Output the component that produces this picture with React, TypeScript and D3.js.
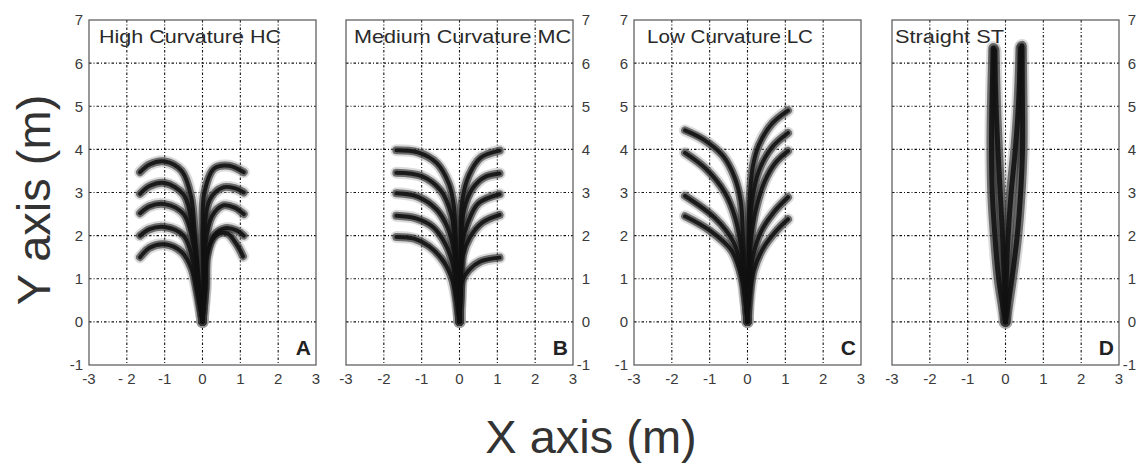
import { useEffect, useRef } from 'react';
import * as d3 from 'd3';

// trajectories, [x, y] in metres
const highCurvaturePaths = [
  [[0, 0], [-0.1, 1], [-0.2, 2], [-0.3, 2.9], [-0.55, 3.5], [-1.0, 3.72], [-1.4, 3.65], [-1.65, 3.47]],
  [[0, 0], [-0.12, 1], [-0.25, 2.1], [-0.5, 2.95], [-1.0, 3.22], [-1.4, 3.15], [-1.65, 2.97]],
  [[0, 0], [-0.12, 0.9], [-0.22, 1.7], [-0.5, 2.5], [-1.0, 2.73], [-1.4, 2.68], [-1.65, 2.52]],
  [[0, 0], [-0.14, 0.8], [-0.25, 1.4], [-0.5, 2.0], [-1.0, 2.2], [-1.4, 2.15], [-1.65, 2.0]],
  [[0, 0], [-0.15, 0.7], [-0.3, 1.25], [-0.55, 1.62], [-1.0, 1.8], [-1.4, 1.72], [-1.65, 1.5]],
  [[0, 0], [0.02, 1], [0.0, 2.2], [0.05, 3.0], [0.3, 3.55], [0.7, 3.62], [1.09, 3.47]],
  [[0, 0], [0.05, 1], [0.05, 2.1], [0.2, 2.85], [0.55, 3.12], [0.85, 3.1], [1.09, 3.0]],
  [[0, 0], [0.06, 0.9], [0.08, 1.8], [0.25, 2.45], [0.55, 2.7], [0.85, 2.65], [1.09, 2.5]],
  [[0, 0], [0.08, 0.8], [0.12, 1.5], [0.3, 2.0], [0.6, 2.17], [0.9, 2.12], [1.09, 2.0]],
  [[0, 0], [0.08, 0.8], [0.1, 1.5], [0.35, 2.0], [0.65, 2.05], [0.9, 1.8], [1.07, 1.52]],
];

const mediumCurvaturePaths = [
  [[0, 0], [-0.05, 1], [-0.1, 2], [-0.15, 2.7], [-0.28, 3.2], [-0.6, 3.68], [-1.1, 3.93], [-1.67, 3.98]],
  [[0, 0], [-0.07, 1], [-0.12, 1.8], [-0.22, 2.5], [-0.5, 3.05], [-1.0, 3.38], [-1.67, 3.46]],
  [[0, 0], [-0.08, 0.9], [-0.14, 1.6], [-0.32, 2.2], [-0.6, 2.6], [-1.1, 2.9], [-1.67, 2.98]],
  [[0, 0], [-0.1, 0.8], [-0.17, 1.3], [-0.37, 1.8], [-0.7, 2.2], [-1.15, 2.4], [-1.67, 2.46]],
  [[0, 0], [-0.1, 0.6], [-0.2, 1.0], [-0.42, 1.4], [-0.8, 1.75], [-1.2, 1.93], [-1.67, 1.97]],
  [[0, 0], [0.02, 1], [0.03, 2], [0.07, 2.8], [0.25, 3.4], [0.55, 3.8], [1.06, 3.97]],
  [[0, 0], [0.03, 1], [0.05, 2], [0.12, 2.6], [0.35, 3.1], [0.65, 3.35], [1.06, 3.44]],
  [[0, 0], [0.04, 1], [0.07, 1.8], [0.22, 2.3], [0.5, 2.75], [1.06, 2.96]],
  [[0, 0], [0.04, 0.9], [0.08, 1.5], [0.27, 1.95], [0.6, 2.3], [1.06, 2.48]],
  [[0, 0], [0.03, 0.5], [0.07, 0.95], [0.25, 1.2], [0.55, 1.4], [1.06, 1.49]],
];

const lowCurvaturePaths = [
  [[0, 0], [-0.06, 1], [-0.12, 2], [-0.18, 2.8], [-0.34, 3.35], [-0.65, 3.85], [-1.15, 4.22], [-1.65, 4.44]],
  [[0, 0], [-0.07, 0.8], [-0.15, 1.6], [-0.32, 2.4], [-0.6, 3.0], [-1.1, 3.55], [-1.65, 3.92]],
  [[0, 0], [-0.07, 0.6], [-0.15, 1.2], [-0.37, 1.85], [-0.85, 2.4], [-1.65, 2.92]],
  [[0, 0], [-0.06, 0.5], [-0.15, 1.0], [-0.42, 1.65], [-1.0, 2.12], [-1.65, 2.45]],
  [[0, 0], [0.02, 1], [0.03, 2], [0.06, 2.9], [0.14, 3.6], [0.3, 4.1], [0.65, 4.6], [1.07, 4.9]],
  [[0, 0], [0.03, 1], [0.05, 2], [0.12, 2.8], [0.3, 3.5], [0.65, 4.05], [1.07, 4.38]],
  [[0, 0], [0.04, 1], [0.08, 1.8], [0.22, 2.6], [0.45, 3.25], [0.75, 3.7], [1.07, 3.96]],
  [[0, 0], [0.05, 0.8], [0.14, 1.5], [0.36, 2.1], [0.7, 2.55], [1.07, 2.89]],
  [[0, 0], [0.06, 0.6], [0.17, 1.2], [0.41, 1.7], [0.75, 2.1], [1.07, 2.38]],
];

const straightPaths = [
  [[0, 0], [-0.18, 1], [-0.28, 2], [-0.35, 3], [-0.37, 4], [-0.36, 5], [-0.32, 6.35]],
  [[0, 0], [-0.03, 1], [-0.08, 2], [-0.14, 3], [-0.2, 4], [-0.25, 5], [-0.29, 6.3]],
  [[0, 0], [0.02, 1], [0.07, 2], [0.15, 3], [0.26, 4], [0.34, 5], [0.4, 6.35]],
  [[0, 0], [0.17, 1], [0.31, 2], [0.4, 3], [0.45, 4], [0.45, 5], [0.43, 6.4]],
];

const xTicks = [-3, -2, -1, 0, 1, 2, 3];
const yTicks = [-1, 0, 1, 2, 3, 4, 5, 6, 7];
const xGrid = [-2, -1, 0, 1, 2];
const yGrid = [0, 1, 2, 3, 4, 5, 6];
const xTickLabelsA = ['-3', '- 2', '-1', '0', '1', '2', '3'];
const xTickLabels = ['-3', '-2', '-1', '0', '1', '2', '3'];
const panelTitles = ['High Curvature HC', 'Medium Curvature MC', 'Low Curvature LC', 'Straight ST'];
const panelLetters = ['A', 'B', 'C', 'D'];

export default function App() {
  const svgRef = useRef(null);

  useEffect(() => {
    const svg = d3.select(svgRef.current);
    svg.selectAll('*').remove();

    const width = 1136;
    const height = 463;
    const top = 20;
    const bottom = 365;
    const panelW = 227;
    const font = 'Liberation Sans, Arial, Helvetica, sans-serif';

    svg.attr('width', width).attr('height', height);
    svg.append('rect').attr('width', width).attr('height', height).attr('fill', 'white');

    const layout = [
      { left: 89, side: 'left', titleDx: 10, titleLen: 182, bundle: 8, paths: highCurvaturePaths, xl: xTickLabelsA },
      { left: 346, side: 'right', titleDx: 8, titleLen: 217, bundle: 8, paths: mediumCurvaturePaths, xl: xTickLabels },
      { left: 634, side: 'left', titleDx: 13, titleLen: 166, bundle: 8, paths: lowCurvaturePaths, xl: xTickLabels },
      { left: 892, side: 'right', titleDx: 3, titleLen: 109, bundle: 10, paths: straightPaths, xl: xTickLabels },
    ];

    const y = d3.scaleLinear().domain([-1, 7]).range([bottom, top]);

    layout.forEach((p, i) => {
      const x = d3.scaleLinear().domain([-3, 3]).range([p.left, p.left + panelW]);
      const g = svg.append('g');

      g.append('clipPath').attr('id', `clip${i}`)
        .append('rect')
        .attr('x', p.left).attr('y', top)
        .attr('width', panelW).attr('height', bottom - top);

      // grid
      g.selectAll('.gx').data(xGrid).join('line')
        .attr('x1', d => x(d)).attr('x2', d => x(d))
        .attr('y1', top).attr('y2', bottom)
        .attr('stroke', '#111').attr('stroke-width', 1.1)
        .attr('stroke-dasharray', '2.5,2,1,2');
      g.selectAll('.gy').data(yGrid).join('line')
        .attr('x1', p.left).attr('x2', p.left + panelW)
        .attr('y1', d => y(d)).attr('y2', d => y(d))
        .attr('stroke', '#111').attr('stroke-width', 1.1)
        .attr('stroke-dasharray', '2.5,2,1,2');

      // trajectories
      const line = d3.line()
        .x(d => x(d[0]))
        .y(d => y(d[1]))
        .curve(d3.curveCatmullRom.alpha(0.5));
      const tg = g.append('g').attr('clip-path', `url(#clip${i})`);
      const w = p.bundle;
      tg.selectAll('.halo').data(p.paths).join('path')
        .attr('d', d => line(d))
        .attr('fill', 'none').attr('stroke', '#999')
        .attr('stroke-width', w + 4).attr('stroke-opacity', 0.35)
        .attr('stroke-linecap', 'round').attr('stroke-linejoin', 'round');
      tg.selectAll('.body').data(p.paths).join('path')
        .attr('d', d => line(d))
        .attr('fill', 'none').attr('stroke', '#333')
        .attr('stroke-width', w).attr('stroke-opacity', 0.65)
        .attr('stroke-linecap', 'round').attr('stroke-linejoin', 'round');
      tg.selectAll('.core').data(p.paths).join('path')
        .attr('d', d => line(d))
        .attr('fill', 'none').attr('stroke', '#111')
        .attr('stroke-width', w * 0.5).attr('stroke-opacity', 0.9)
        .attr('stroke-linecap', 'round').attr('stroke-linejoin', 'round');

      // border and ticks
      g.append('rect')
        .attr('x', p.left).attr('y', top)
        .attr('width', panelW).attr('height', bottom - top)
        .attr('fill', 'none').attr('stroke', '#555').attr('stroke-width', 1.2);

      g.selectAll('.xt').data(xTicks).join('text')
        .attr('x', d => x(d))
        .attr('y', bottom + 19)
        .attr('text-anchor', 'middle')
        .attr('font-family', font).attr('font-size', 15)
        .attr('fill', '#3a3a3a')
        .text((d, j) => p.xl[j]);

      const yx = p.side === 'left' ? p.left - 6 : p.left + panelW + 17;
      g.selectAll('.yt').data(yTicks).join('text')
        .attr('x', yx)
        .attr('y', d => y(d))
        .attr('dy', '0.36em')
        .attr('text-anchor', 'end')
        .attr('font-family', font).attr('font-size', 15)
        .attr('fill', '#3a3a3a')
        .text(d => d);

      g.append('text')
        .attr('x', p.left + p.titleDx)
        .attr('y', 43)
        .attr('font-family', font).attr('font-size', 19)
        .attr('fill', '#2a2a2a')
        .attr('textLength', p.titleLen)
        .attr('lengthAdjust', 'spacingAndGlyphs')
        .text(panelTitles[i]);

      g.append('text')
        .attr('x', p.left + panelW - 5)
        .attr('y', 355)
        .attr('text-anchor', 'end')
        .attr('font-family', font).attr('font-size', 21).attr('font-weight', 'bold')
        .attr('fill', '#222')
        .text(panelLetters[i]);
    });

    svg.append('text')
      .attr('transform', 'translate(50, 200) rotate(-90)')
      .attr('text-anchor', 'middle')
      .attr('font-family', font).attr('font-size', 47)
      .attr('fill', '#333')
      .text('Y axis (m)');

    svg.append('text')
      .attr('x', 591)
      .attr('y', 453)
      .attr('text-anchor', 'middle')
      .attr('font-family', font).attr('font-size', 47)
      .attr('fill', '#333')
      .text('X axis (m)');
  }, []);

  return (
    <svg ref={svgRef} style={{ position: 'absolute', left: 0, top: 0 }}></svg>
  );
}
